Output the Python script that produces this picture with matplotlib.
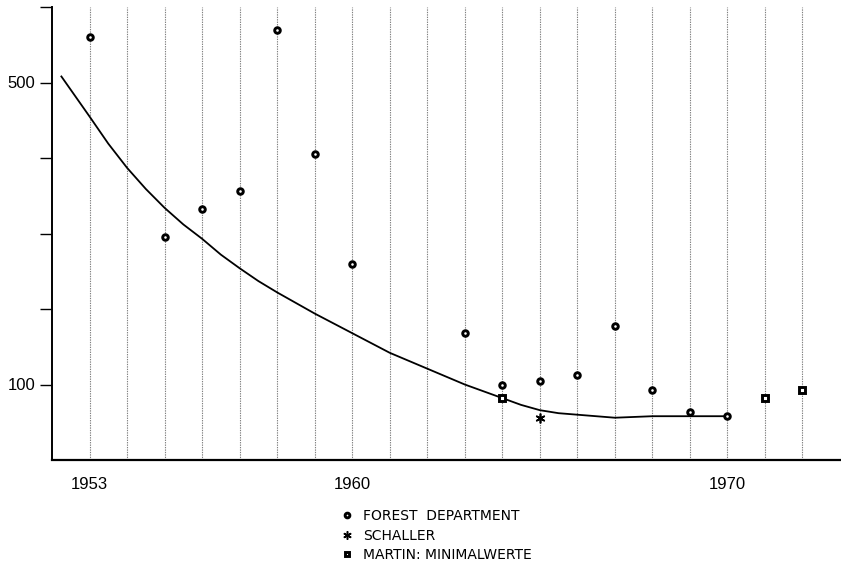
import matplotlib
matplotlib.use("Agg")
import matplotlib.pyplot as plt
from matplotlib.lines import Line2D

plt.rcParams['font.family'] = ['Liberation Sans', 'DejaVu Sans']

# Forest Department counts
forest_years = [1953, 1955, 1956, 1957, 1958, 1959, 1960, 1963, 1964,
                1965, 1966, 1967, 1968, 1969, 1970]
forest_values = [560, 295, 333, 356, 570, 405, 260, 168, 100,
                 105, 113, 178, 93, 64, 58]

# Schaller
schaller_years = [1965]
schaller_values = [56]

# Martin: Minimalwerte
martin_years = [1964, 1971, 1972]
martin_values = [82, 82, 93]

# trend curve
curve_years = [1952.25, 1953, 1953.5, 1954, 1954.5, 1955, 1955.5, 1956, 1956.5,
               1957, 1957.5, 1958, 1959, 1960, 1961, 1962, 1963, 1964, 1964.5,
               1965, 1965.5, 1966, 1967, 1968, 1969, 1970]
curve_values = [508, 455, 419, 387, 359, 334, 312, 293, 272,
                254, 237, 222, 194, 168, 142, 121, 100, 82, 73,
                66, 62, 60, 56, 58, 58, 58]

grid_years = list(range(1953, 1973))
xtick_years = [1953, 1960, 1970]
ytick_values = [100, 200, 300, 400, 500, 600]
ytick_labels = ["100", "", "", "", "500", ""]

legend_labels = ["FOREST  DEPARTMENT", "SCHALLER", "MARTIN: MINIMALWERTE"]

fig = plt.figure(figsize=(8.41, 5.64), dpi=100)
ax = fig.add_axes((52 / 841, 1 - 460 / 564, 788 / 841, 453 / 564))

for yr in grid_years:
    ax.axvline(yr, color='#808080', lw=0.8, linestyle=(0, (1.2, 1.0)), zorder=1)

ax.plot(curve_years, curve_values, color='black', lw=1.3, zorder=2)

ring = dict(linestyle='none', markerfacecolor='white', markeredgecolor='black',
            markeredgewidth=2.1)
ax.plot(forest_years, forest_values, marker='o', markersize=4.0, zorder=3, **ring)
ax.plot(martin_years, martin_values, marker='s', markersize=3.8, zorder=3, **ring)
ax.plot(schaller_years, schaller_values, linestyle='none', marker=(6, 2, 0),
        markersize=7, color='black', markeredgewidth=1.2, zorder=3)

ax.set_xlim(1952, 1973)
ax.set_ylim(0, 600)
ax.spines['top'].set_visible(False)
ax.spines['right'].set_visible(False)
ax.spines['left'].set_linewidth(1.4)
ax.spines['bottom'].set_linewidth(1.6)

ax.set_xticks(xtick_years)
ax.set_xticklabels([str(y) for y in xtick_years])
ax.tick_params(axis='x', length=0, pad=12, labelsize=12)
ax.set_yticks(ytick_values)
ax.set_yticklabels(ytick_labels)
ax.tick_params(axis='y', length=9, width=1.0, pad=3, labelsize=12)

handles = [
    Line2D([], [], marker='o', markersize=3.4, **ring),
    Line2D([], [], linestyle='none', marker=(6, 2, 0), markersize=6,
           color='black', markeredgewidth=1.1),
    Line2D([], [], marker='s', markersize=3.4, **ring),
]
fig.legend(handles, legend_labels, loc='upper left',
           bbox_to_anchor=(334 / 841, 1 - 502 / 564), frameon=False,
           handlelength=0.8, handletextpad=0.8,
           labelspacing=0.4, borderpad=0,
           prop={'family': 'DejaVu Sans', 'size': 10})

fig.savefig("out.png", dpi=100)
